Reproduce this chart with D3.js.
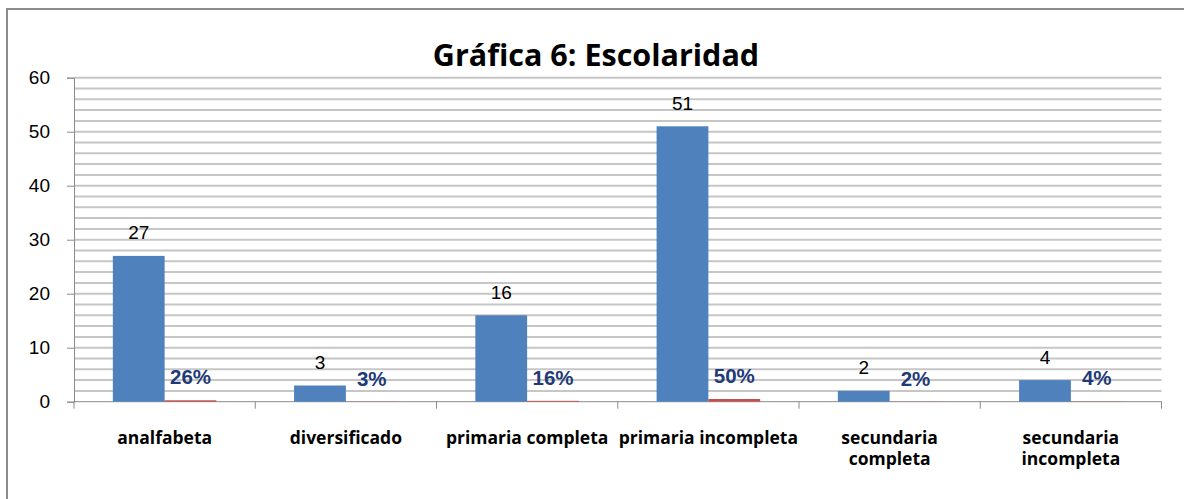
<!DOCTYPE html>
<html>
<head>
<meta charset="utf-8">
<script src="https://cdn.jsdelivr.net/npm/d3@7"></script>
<style>
  body { margin: 0; background: #fff; }
  svg { display: block; }
</style>
</head>
<body>
<div id="chart"></div>
<script>
	// data
	var categories = ["analfabeta", "diversificado", "primaria completa", "primaria incompleta", "secundaria completa", "secundaria incompleta"];
	var catLines = [["analfabeta"], ["diversificado"], ["primaria completa"], ["primaria incompleta"], ["secundaria", "completa"], ["secundaria", "incompleta"]];
	var counts = [27, 3, 16, 51, 2, 4];
	var shares = [0.26, 0.03, 0.16, 0.50, 0.02, 0.04];
	var yTicks = [0, 10, 20, 30, 40, 50, 60];
	var title = "Gráfica 6: Escolaridad";

(function(){
	'use strict';

	var width = 1184, height = 499;
	var plotLeft = 74, plotRight = 1161.5, plotTop = 77.7, plotBottom = 401.7;

	var svg = d3.select("#chart").append("svg")
		.attr("width", width)
		.attr("height", height);

	// outer frame (only top and left visible)
	svg.append("rect")
		.attr("x", 7).attr("y", 9)
		.attr("width", 1200).attr("height", 520)
		.attr("fill", "none")
		.attr("stroke", "#8c8c8c")
		.attr("stroke-width", 2);

	var y = d3.scaleLinear().domain([0, 60]).range([plotBottom, plotTop]);
	var x0 = d3.scaleBand().domain(categories).range([plotLeft, plotRight]).paddingInner(0).paddingOuter(0);
	var x1 = d3.scaleBand().domain(["n", "p"]).range([0, x0.bandwidth()]).paddingInner(0).paddingOuter(0.75);

	// gridlines every 2 units
	svg.append("g")
		.selectAll("line")
		.data(d3.range(2, 61, 2))
		.enter().append("line")
		.attr("x1", plotLeft).attr("x2", plotRight)
		.attr("y1", function(d){ return y(d); })
		.attr("y2", function(d){ return y(d); })
		.style("stroke", "#c6c6c6")
		.style("stroke-width", 2);

	// y axis
	var yAxis = svg.append("g")
		.attr("transform", "translate(" + plotLeft + ",0)")
		.call(d3.axisLeft(y).tickValues(yTicks).tickSize(7).tickPadding(17));
	yAxis.select(".domain").attr("stroke", "#8a8a8a");
	yAxis.selectAll(".tick line").attr("stroke", "#8a8a8a");
	yAxis.selectAll("text")
		.style("font-family", "'Liberation Sans', Arial, sans-serif")
		.style("font-size", "19px")
		.attr("fill", "#000");

	// x axis with ticks at category boundaries
	var xAxisG = svg.append("g").attr("transform", "translate(0," + plotBottom + ")");
	xAxisG.append("line")
		.attr("x1", plotLeft).attr("x2", plotRight)
		.attr("stroke", "#8a8a8a");
	xAxisG.selectAll("line.tk")
		.data(d3.range(categories.length + 1))
		.enter().append("line")
		.attr("class", "tk")
		.attr("x1", function(i){ return i < categories.length ? x0(categories[i]) : plotRight; })
		.attr("x2", function(i){ return i < categories.length ? x0(categories[i]) : plotRight; })
		.attr("y1", 0).attr("y2", 7)
		.attr("stroke", "#8a8a8a");

	var lbl = svg.append("g").selectAll("text")
		.data(categories)
		.enter().append("text")
		.attr("x", function(d){ return x0(d) + x0.bandwidth() / 2; })
		.attr("y", 444)
		.attr("text-anchor", "middle")
		.style("font-family", "'Open Sans', sans-serif")
		.style("font-weight", "bold")
		.style("font-size", "17.5px")
		.attr("fill", "#000");
	lbl.each(function(d, i){
		var t = d3.select(this);
		catLines[i].forEach(function(s, j){
			t.append("tspan")
				.attr("x", x0(d) + x0.bandwidth() / 2)
				.attr("dy", j === 0 ? 0 : 21)
				.text(s);
		});
	});

	// bars
	var groups = svg.append("g").selectAll("g")
		.data(categories)
		.enter().append("g")
		.attr("transform", function(d){ return "translate(" + x0(d) + ",0)"; });

	groups.append("rect")
		.attr("x", x1("n"))
		.attr("width", x1.bandwidth())
		.attr("y", function(d, i){ return y(counts[i]); })
		.attr("height", function(d, i){ return plotBottom - y(counts[i]); })
		.attr("fill", "#4f81bd");

	groups.append("rect")
		.attr("x", x1("p"))
		.attr("width", x1.bandwidth())
		.attr("y", function(d, i){ return y(shares[i]); })
		.attr("height", function(d, i){ return plotBottom - y(shares[i]); })
		.attr("fill", "#c0504d");

	// value labels
	groups.append("text")
		.attr("x", x1("n") + x1.bandwidth() / 2)
		.attr("y", function(d, i){ return y(counts[i]) - 16.5; })
		.attr("text-anchor", "middle")
		.style("font-family", "'Liberation Sans', Arial, sans-serif")
		.style("font-size", "19px")
		.attr("fill", "#000")
		.text(function(d, i){ return counts[i]; });

	groups.append("text")
		.attr("x", x1("p") + x1.bandwidth() / 2)
		.attr("y", function(d, i){ return y(shares[i]) - 16; })
		.attr("text-anchor", "middle")
		.style("font-family", "'Liberation Sans', Arial, sans-serif")
		.style("font-weight", "bold")
		.style("font-size", "20.5px")
		.attr("fill", "#1f3a78")
		.text(function(d, i){ return Math.round(shares[i] * 100) + "%"; });

	// title
	svg.append("text")
		.attr("x", 596)
		.attr("y", 66)
		.attr("text-anchor", "middle")
		.style("font-family", "'Open Sans', sans-serif")
		.style("font-weight", "bold")
		.style("font-size", "30.5px")
		.attr("fill", "#000")
		.text(title);
})();
</script>
</body>
</html>
